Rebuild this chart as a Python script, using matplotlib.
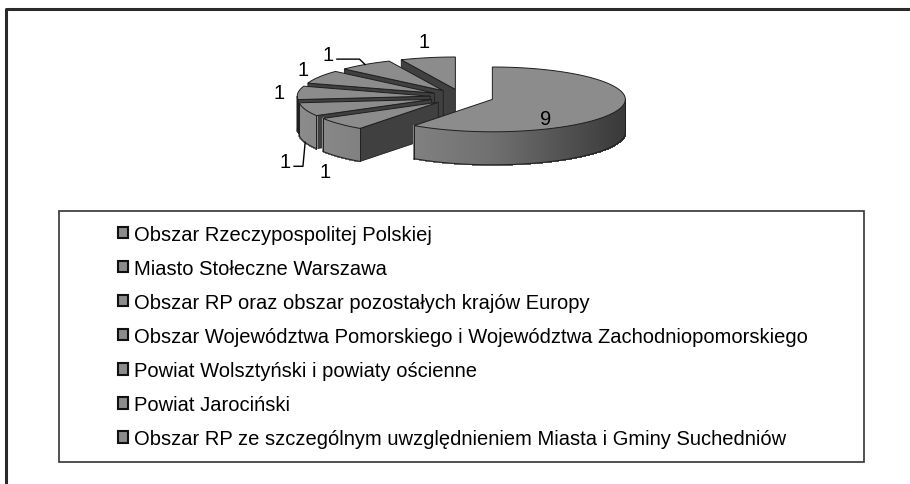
import numpy as np
import matplotlib.pyplot as plt
from matplotlib.patches import Polygon, Rectangle, Patch
from matplotlib.lines import Line2D

plt.rcParams['font.family'] = ['Liberation Sans', 'DejaVu Sans']

# ---------------------------------------------------
# Data
# ---------------------------------------------------

regions = [
    "Obszar Rzeczypospolitej Polskiej",
    "Miasto Stołeczne Warszawa",
    "Obszar RP oraz obszar pozostałych krajów Europy",
    "Obszar Województwa Pomorskiego i Województwa Zachodniopomorskiego",
    "Powiat Wolsztyński i powiaty ościenne",
    "Powiat Jarociński",
    "Obszar RP ze szczególnym uwzględnieniem Miasta i Gminy Suchedniów",
]
counts = [9, 1, 1, 1, 1, 1, 1]

# ---------------------------------------------------
# Layout (pixels)
# ---------------------------------------------------

W, H = 910, 485
cx, cy = 462, 98          # pie centre (top face)
rx, ry = 133, 32.4        # ellipse radii
depth = 33                # pie thickness
explode = 0.24
top_col = "#8c8c8c"
face_col = "#404040"
edge_col = "#1e1e1e"
fs = 14.5

# slices go clockwise from 12 o'clock; two labels were pushed out with leaders
label_shift = [(0, 0), (0, 0), (-2, 11), (0, 0), (0, 0), (-26, 3), (0, 0)]
leader = [False, False, True, False, False, True, False]

fig = plt.figure(figsize=(W / 100, H / 100), dpi=100)
ax = fig.add_axes([0, 0, 1, 1])
ax.set_xlim(0, W)
ax.set_ylim(H, 0)
ax.axis("off")

total = sum(counts)
starts = 90 - 360 * np.cumsum([0] + counts[:-1]) / total
ends = starts - 360 * np.array(counts) / total
mids = (starts + ends) / 2


def apex(m):
    t = np.radians(m)
    return cx + explode * rx * np.cos(t), cy - explode * ry * np.sin(t)


def rim(x0, y0, a, r=1.0, dz=0.0):
    t = np.radians(a)
    return x0 + r * rx * np.cos(t), y0 - r * ry * np.sin(t) + dz


def wall_gray(a):
    c = np.cos(np.radians(a))
    v = 112 - (28 if c < 0 else 55) * c
    return str(v / 255)


def draw_slice(i):
    a1, a2, m = ends[i], starts[i], mids[i]
    x0, y0 = apex(m)

    # radial cut faces that face the viewer
    for a, vis in [(a2, np.cos(np.radians(a2)) < -1e-6),
                   (a1, np.cos(np.radians(a1)) > 1e-6)]:
        if vis:
            p1 = rim(x0, y0, a)
            p2 = rim(x0, y0, a, dz=depth)
            quad = [(x0, y0), p1, p2, (x0, y0 + depth)]
            ax.add_patch(Polygon(quad, closed=True, facecolor=face_col,
                                 edgecolor=edge_col, linewidth=0.6))

    # outer wall (front half only), shaded strip by strip
    ts = np.linspace(a1, a2, int(abs(a2 - a1)) * 2 + 2)
    front = []
    for ta, tb in zip(ts[:-1], ts[1:]):
        tm = (ta + tb) / 2
        if np.sin(np.radians(tm)) < 0:
            q = [rim(x0, y0, ta), rim(x0, y0, tb),
                 rim(x0, y0, tb, dz=depth), rim(x0, y0, ta, dz=depth)]
            g = wall_gray(tm)
            ax.add_patch(Polygon(q, closed=True, facecolor=g, edgecolor=g,
                                 linewidth=0.8, antialiased=False))
            front.append((ta, tb))
    if front:
        fa, fb = front[0][0], front[-1][1]
        arc = np.linspace(fa, fb, 80)
        bx, by = zip(*[rim(x0, y0, t, dz=depth) for t in arc])
        ax.plot(bx, by, color=edge_col, lw=0.7)
        for t in (fa, fb):
            px, py = rim(x0, y0, t)
            ax.plot([px, px], [py, py + depth], color=edge_col, lw=0.7)

    # top face
    arc = np.linspace(a2, a1, 120)
    pts = [(x0, y0)] + [rim(x0, y0, t) for t in arc]
    ax.add_patch(Polygon(pts, closed=True, facecolor=top_col,
                         edgecolor=edge_col, linewidth=0.7))


# painter's order: back slices first
def front_key(i):
    arc = np.linspace(ends[i], starts[i], 200)
    return np.max(-np.sin(np.radians(arc)))


for i in sorted(range(len(counts)), key=front_key):
    draw_slice(i)

# data labels
for i, v in enumerate(counts):
    m = mids[i]
    x0, y0 = apex(m)
    t = np.radians(m)
    if i == 0:
        lx, ly = rim(x0, y0, m, 0.42, depth * 0.4)
        ax.text(lx, ly, str(v), ha="center", va="center_baseline", fontsize=fs)
        continue
    dz = depth if np.sin(t) < 0 else 0
    sx, sy = rim(x0, y0, m, 1.0, dz)
    lx = sx + 19 * np.cos(t) + label_shift[i][0]
    ly = sy - 19 * np.sin(t) + label_shift[i][1]
    ax.text(lx, ly, str(v), ha="center", va="center_baseline", fontsize=fs)
    if leader[i]:
        ex, ey = lx + 9, ly + 7
        elx = sx + 0.2 * (ex - sx)
        ax.plot([sx, elx, ex], [sy, ey, ey], color="black", lw=1)

# ---------------------------------------------------
# Frame and legend
# ---------------------------------------------------

ax.add_line(Line2D([6, 6, W + 5], [H + 5, 10, 10], color="#2a2a2a",
                   lw=2.2, clip_on=False))
ax.add_patch(Rectangle((59, 212), 864 - 59, 463 - 212, fill=False,
                       edgecolor="#333333", linewidth=1.2))

handles = [Patch(facecolor=top_col, edgecolor="#111111", linewidth=1.5)
           for _ in regions]
ax.legend(
    handles, regions,
    loc="center left",
    bbox_to_anchor=(118, 337.4),
    bbox_transform=ax.transData,
    frameon=False,
    fontsize=fs,
    handlelength=0.5,
    handleheight=0.5,
    handletextpad=0.3,
    labelspacing=0.75,
    borderpad=0,
    borderaxespad=0,
)

plt.savefig("out.png", dpi=100)
plt.close()
